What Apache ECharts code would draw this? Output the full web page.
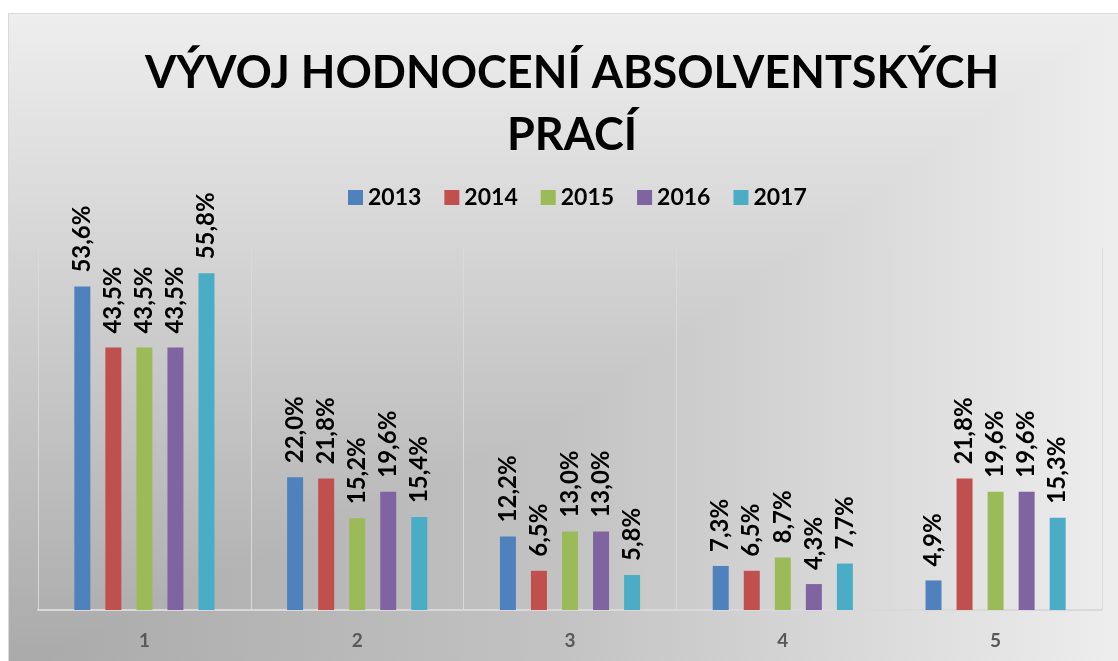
<!DOCTYPE html>
<html>
<head>
<meta charset="utf-8">
<script src="https://cdn.jsdelivr.net/npm/echarts@6/dist/echarts.min.js"></script>
<style>
  html, body { margin: 0; padding: 0; background: #fff; }
  #chart { width: 1118px; height: 661px; }
</style>
</head>
<body>
<div id="chart"></div>
<script>
// hodnocení 1..5, podíl prací v % podle roku
const categories = ['1', '2', '3', '4', '5'];
const years = ['2013', '2014', '2015', '2016', '2017'];
const v2013 = [53.6, 22.0, 12.2, 7.3, 4.9];
const v2014 = [43.5, 21.8, 6.5, 6.5, 21.8];
const v2015 = [43.5, 15.2, 13.0, 8.7, 19.6];
const v2016 = [43.5, 19.6, 13.0, 4.3, 19.6];
const v2017 = [55.8, 15.4, 5.8, 7.7, 15.3];
const values = [v2013, v2014, v2015, v2016, v2017];
const colors = ['#4f81bd', '#c0504d', '#9bbb59', '#8064a2', '#4bacc6'];

const chart = echarts.init(document.getElementById('chart'));

const frame = { x: 8, y: 13, width: 1120, height: 660 };

const series = years.map((y, i) => ({
  name: y,
  type: 'bar',
  barWidth: 16,
  barGap: '94%',
  itemStyle: { color: colors[i] },
  label: {
    show: true,
    position: 'top',
    rotate: 90,
    align: 'left',
    verticalAlign: 'middle',
    distance: 14,
    color: '#000',
    fontFamily: 'Lato',
    fontWeight: 'bold',
    fontSize: 24,
    formatter: (p) => p.value.toFixed(1).replace('.', ',') + '%'
  },
  data: values[i]
}));

chart.setOption({
  color: colors,
  animation: false,
  graphic: [
    {
      type: 'rect', z: -3, silent: true,
      shape: frame,
      style: {
        fill: new echarts.graphic.LinearGradient(0, 0, 1, 0, [
          { offset: 0, color: '#a9a9a9' },
          { offset: 0.5, color: '#c3c3c3' },
          { offset: 1, color: '#eeeeee' }
        ])
      }
    },
    {
      type: 'rect', z: -2, silent: true,
      shape: frame,
      style: {
        // svislý přechod, "lighten" dává obdélníkový přechod z levého dolního rohu
        fill: new echarts.graphic.LinearGradient(0, 1, 0, 0, [
          { offset: 0, color: '#a9a9a9' },
          { offset: 0.5, color: '#cbcbcb' },
          { offset: 1, color: '#eeeeee' }
        ]),
        blend: 'lighten'
      }
    },
    {
      type: 'rect', z: -1, silent: true,
      shape: { x: 8.5, y: 13.5, width: 1120, height: 660 },
      style: { fill: 'none', stroke: '#d9d9d9', lineWidth: 1 }
    }
  ],
  title: {
    text: 'VÝVOJ HODNOCENÍ ABSOLVENTSKÝCH\nPRACÍ',
    left: 567,
    top: 37,
    textAlign: 'center',
    textStyle: {
      fontFamily: 'Lato',
      fontWeight: 'bold',
      fontSize: 45,
      lineHeight: 62,
      color: '#000'
    }
  },
  legend: {
    data: years,
    top: 181,
    left: 343,
    icon: 'rect',
    itemWidth: 15,
    itemHeight: 15,
    itemGap: 23,
    textStyle: {
      fontFamily: 'Lato',
      fontWeight: 'bold',
      fontSize: 23,
      color: '#000'
    }
  },
  grid: {
    left: 38,
    right: 16,
    top: 248,
    bottom: 51,
    containLabel: false
  },
  xAxis: {
    type: 'category',
    data: categories,
    axisTick: { show: false },
    axisLine: { show: true, lineStyle: { color: '#d9d9d9', width: 2 } },
    splitLine: { show: true, lineStyle: { color: '#d9d9d9', width: 1 } },
    axisLabel: {
      margin: 21,
      color: '#595959',
      fontFamily: 'Lato',
      fontWeight: 'bold',
      fontSize: 19
    }
  },
  yAxis: {
    type: 'value',
    min: 0,
    max: 60,
    show: false,
    splitLine: { show: false }
  },
  series: series
});
</script>
</body>
</html>
